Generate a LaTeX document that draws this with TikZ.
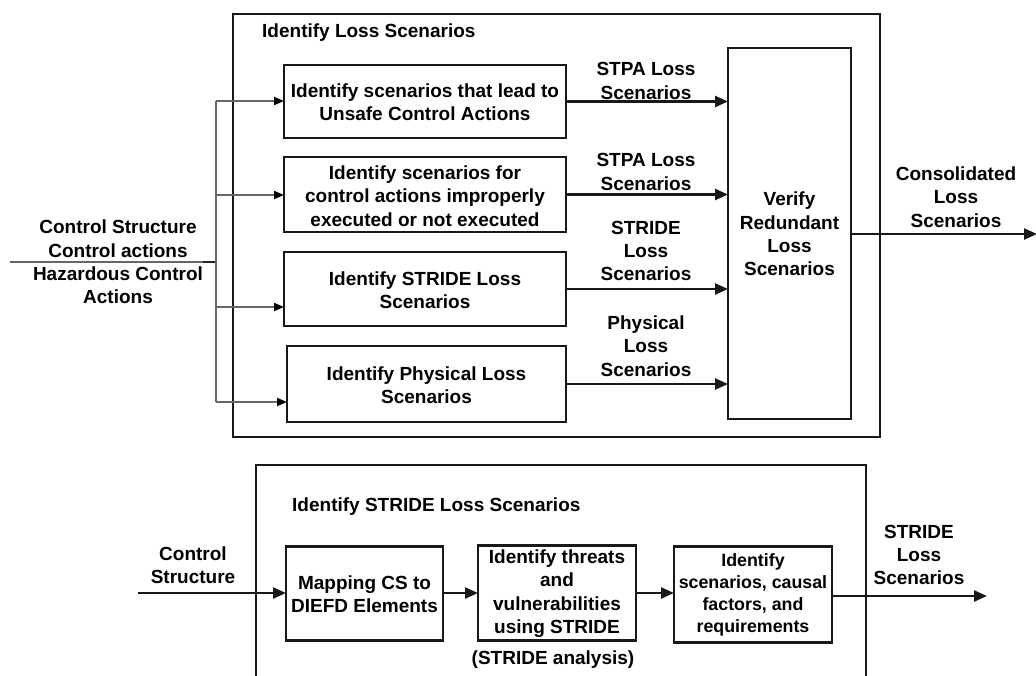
\documentclass[tikz,border=0pt]{standalone}
\usepackage{fontspec}
\setmainfont{Liberation Sans}
\usetikzlibrary{arrows.meta}
\begin{document}
\begin{tikzpicture}[x=1pt,y=-1pt,
  txt/.style={font=\bfseries\fontsize{19}{23.3}\selectfont, align=center, inner sep=0pt},
  smalltxt/.style={font=\bfseries\fontsize{17.8}{22.2}\selectfont, align=center, inner sep=0pt},
  procbox/.style={draw=black!90, line width=2.8pt, inner sep=0pt, outer sep=0pt},
  frame/.style={draw=black!90, line width=2.8pt},
  flow/.style={line width=2.4pt, draw=black!90, -{Triangle[length=13pt,width=11pt]}},
  feed/.style={line width=1.8pt, draw=black!60},
  feedarrow/.style={line width=1.8pt, draw=black!60, -{Triangle[length=10pt,width=8pt,fill=black,color=black]}}
]
\useasboundingbox (0,0) rectangle (1036,675);

% ---------- top frame ----------
\node[frame, minimum width=647pt, minimum height=423pt, inner sep=0pt] (topframe) at (556.5,225.5) {};
\node[txt, anchor=west] (toptitle) at (262,33) {Identify Loss Scenarios};

\node[procbox, minimum width=282pt, minimum height=73pt] (box1) at (425,101.5) {};
\node[txt] (t1) at (425,102) {Identify scenarios that lead to\\Unsafe Control Actions};

\node[procbox, minimum width=282pt, minimum height=75pt] (box2) at (425,194.5) {};
\node[txt] (t2) at (425,196) {Identify scenarios for\\control actions improperly\\executed or not executed};

\node[procbox, minimum width=282pt, minimum height=74pt] (box3) at (425,289) {};
\node[txt] (t3) at (425,290) {Identify STRIDE Loss\\Scenarios};

\node[procbox, minimum width=279pt, minimum height=76pt] (box4) at (426.5,384) {};
\node[txt] (t4) at (426.5,385) {Identify Physical Loss\\Scenarios};

\node[procbox, minimum width=123pt, minimum height=371pt] (verify) at (789.5,233.5) {};
\node[txt] (tv) at (789.5,234) {Verify\\Redundant\\Loss\\Scenarios};

% arrows into verify
\draw[flow] (box1.east) -- (box1.east -| verify.west);
\draw[flow] (box2.east) -- (box2.east -| verify.west);
\draw[flow] (box3.east) -- (box3.east -| verify.west);
\draw[flow] (box4.east) -- (box4.east -| verify.west);

\node[txt] (l1) at (646,81) {STPA Loss\\Scenarios};
\node[txt] (l2) at (646,172) {STPA Loss\\Scenarios};
\node[txt] (l3) at (646,251) {STRIDE\\Loss\\Scenarios};
\node[txt] (l4) at (646,346) {Physical\\Loss\\Scenarios};

% output
\coordinate (outend) at (1037,234);
\draw[flow] (verify.east |- outend) -- (outend);
\node[txt] (lout) at (956,197) {Consolidated\\Loss\\Scenarios};

% input
\coordinate (inL) at (10,262);
\coordinate (jn) at (216,262);
\coordinate (j1) at (216,101);
\coordinate (j2) at (216,195);
\coordinate (j3) at (216,307);
\coordinate (j4) at (216,402);
\draw[feed] (inL) -- (jn);
\draw[line width=2.2pt, black!85] (203,262) -- (jn);
\draw[feed] (j1) -- (j4);
\draw[feedarrow] (j1) -- (j1 -| box1.west);
\draw[feedarrow] (j2) -- (j2 -| box2.west);
\draw[feedarrow] (j3) -- (j3 -| box3.west);
\draw[feedarrow] (j4) -- (j4 -| box4.west);
\node[txt] (tin) at (118,262) {Control Structure\\Control actions\\Hazardous Control\\Actions};

% ---------- bottom frame ----------
\coordinate (fbl) at (256,680);
\coordinate (ftl) at (256,465);
\coordinate (ftr) at (866,465);
\coordinate (fbr) at (866,680);
\draw[frame] (fbl) -- (ftl) -- (ftr) -- (fbr);
\node[txt, anchor=west] (bottitle) at (292,507) {Identify STRIDE Loss Scenarios};

\node[procbox, minimum width=157pt, minimum height=94pt] (m1) at (364.5,593.5) {};
\node[txt] (tm1) at (364.5,594) {Mapping CS to\\DIEFD Elements};

\node[procbox, minimum width=158pt, minimum height=95pt] (m2) at (557,593) {};
\node[txt] (tm2) at (557,593.5) {Identify threats\\and\\vulnerabilities\\using STRIDE};
\node[txt] (tm2b) at (553,660) {(STRIDE analysis)};

\node[procbox, minimum width=158pt, minimum height=96pt] (m3) at (753,594.5) {};
\node[smalltxt] (tm3) at (753,595) {Identify\\scenarios, causal\\factors, and\\requirements};

\coordinate (bin) at (138,593);
\coordinate (bout) at (987,596);
\draw[flow] (bin) -- (bin -| m1.west);
\draw[flow] (m1.east |- bin) -- (bin -| m2.west);
\draw[flow] (m2.east |- bin) -- (bin -| m3.west);
\draw[flow] (m3.east |- bout) -- (bout);
\node[txt] (tbin) at (193,565.5) {Control\\Structure};
\node[txt] (tbout) at (919,555) {STRIDE\\Loss\\Scenarios};
\end{tikzpicture}
\end{document}
